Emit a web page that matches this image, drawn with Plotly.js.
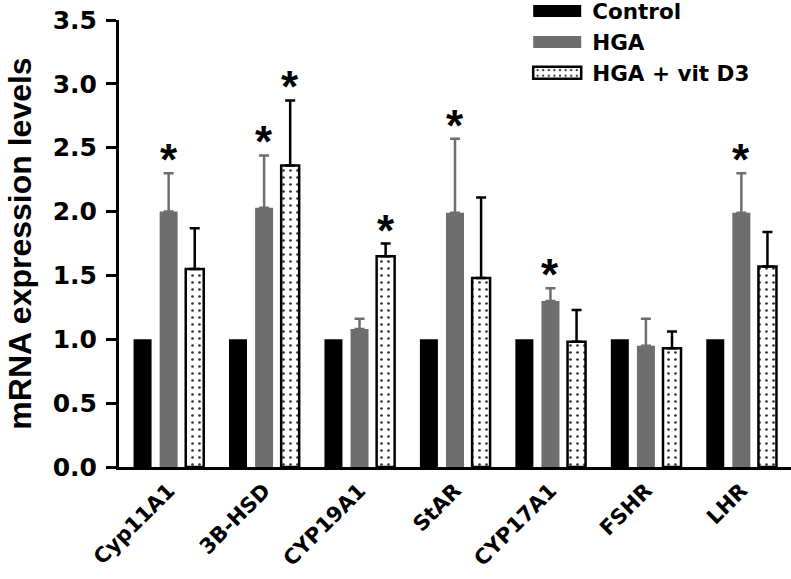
<!DOCTYPE html>
<html>
<head>
<meta charset="utf-8">
<script src="https://cdn.plot.ly/plotly-3.0.1.min.js"></script>
<style>html,body{margin:0;padding:0;background:#fff;}#chart{width:791px;height:579px;}</style>
</head>
<body>
<div id="chart"></div>
<script>
const categories = ['Cyp11A1', '3B-HSD', 'CYP19A1', 'StAR', 'CYP17A1', 'FSHR', 'LHR'];
const controlVals = [1.0, 1.0, 1.0, 1.0, 1.0, 1.0, 1.0];
const hgaVals = [2.00, 2.03, 1.08, 1.99, 1.30, 0.95, 1.99];
const hgaErr = [0.30, 0.41, 0.08, 0.58, 0.10, 0.21, 0.31];
const vitVals = [1.55, 2.36, 1.65, 1.48, 0.98, 0.93, 1.57];
const vitErr = [0.32, 0.51, 0.10, 0.63, 0.25, 0.13, 0.27];
const hgaSig = [true, true, false, true, true, false, true];
const vitSig = [false, true, true, false, false, false, false];
const seriesNames = ['Control', 'HGA', 'HGA + vit D3'];

const ARIAL = 'Arial, "Liberation Sans", sans-serif';
const WIDE = '"DejaVu Sans", Arial, sans-serif';
const GRAY = '#6e6e6e';

const traces = [
  {
    type: 'bar', name: seriesNames[0], x: categories, y: controlVals,
    marker: {color: '#000000', line: {width: 0}}
  },
  {
    type: 'bar', name: seriesNames[1], x: categories, y: hgaVals,
    marker: {color: GRAY, line: {width: 0}},
    error_y: {type: 'data', array: hgaErr, arrayminus: hgaErr.map(() => 0), symmetric: false,
              color: GRAY, thickness: 2.5, width: 5}
  },
  {
    type: 'bar', name: seriesNames[2], x: categories, y: vitVals,
    marker: {color: '#ffffff', line: {color: '#000000', width: 2.5},
             pattern: {shape: '.', fgcolor: '#333333', bgcolor: '#ffffff', size: 7, solidity: 0.12}},
    error_y: {type: 'data', array: vitErr, arrayminus: vitErr.map(() => 0), symmetric: false,
              color: '#000000', thickness: 2.5, width: 5}
  }
];

const starFont = {family: ARIAL, size: 44, color: '#000', weight: 'bold'};
const annotations = [];
categories.forEach((c, i) => {
  if (hgaSig[i]) annotations.push({x: c, y: hgaVals[i] + hgaErr[i], xref: 'x', yref: 'y', text: '*',
    showarrow: false, yanchor: 'bottom', xshift: 0, yshift: -13, font: starFont});
  if (vitSig[i]) annotations.push({x: c, y: vitVals[i] + vitErr[i], xref: 'x', yref: 'y', text: '*',
    showarrow: false, yanchor: 'bottom', xshift: 26, yshift: -13, font: starFont});
});

const layout = {
  width: 791, height: 579,
  margin: {l: 119, r: 0, t: 20, b: 112, autoexpand: false},
  paper_bgcolor: '#ffffff', plot_bgcolor: '#ffffff',
  font: {family: WIDE, color: '#000000', weight: 'bold'},
  barmode: 'group', bargap: 0.18, bargroupgap: 0.31,
  showlegend: true,
  legend: {
    x: 0.6, y: 1.066, xanchor: 'left', yanchor: 'top',
    font: {family: WIDE, size: 21.5, color: '#000', weight: 'bold'},
    itemwidth: 60, tracegroupgap: 0, bgcolor: 'rgba(0,0,0,0)',
    traceorder: 'normal'
  },
  xaxis: {
    type: 'category', range: [-0.52, 6.52],
    showline: true, linecolor: '#000', linewidth: 3,
    ticks: '', tickangle: -45, automargin: false,
    tickfont: {family: WIDE, size: 21, color: '#000', weight: 'bold'},
    showgrid: false, zeroline: false
  },
  yaxis: {
    range: [0, 3.5], dtick: 0.5, tickformat: '.1f', automargin: false,
    showline: true, linecolor: '#000', linewidth: 3,
    ticks: 'outside', ticklen: 10, tickwidth: 3, tickcolor: '#000',
    ticklabelstandoff: 4,
    tickfont: {family: WIDE, size: 25, color: '#000', weight: 'bold'},
    showgrid: false, zeroline: false,
    title: {text: 'mRNA expression levels', font: {family: ARIAL, size: 32, color: '#000', weight: 'bold'}, standoff: 12}
  },
  annotations: annotations
};

Plotly.newPlot('chart', traces, layout, {displayModeBar: false, staticPlot: true}).then(() => {
  document.querySelectorAll('.legend .legendpoints path').forEach(p => {
    p.setAttribute('d', 'M24,6H-24V-6H24Z');
  });
});
</script>
</body>
</html>
